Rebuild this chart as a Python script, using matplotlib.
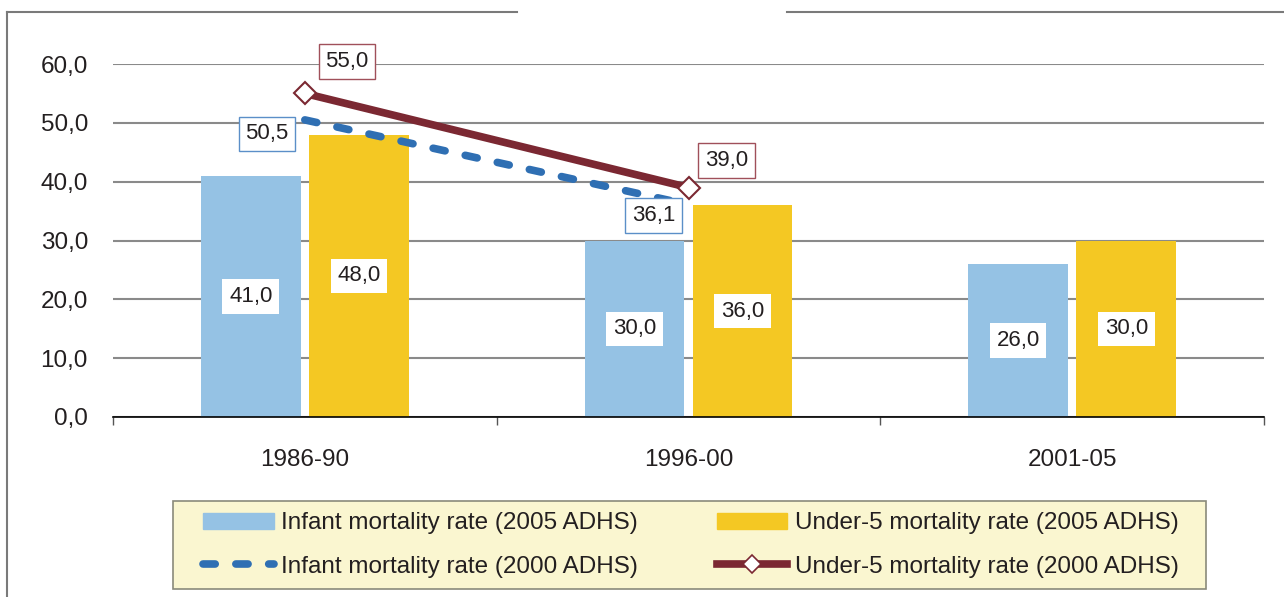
import matplotlib
matplotlib.use('Agg')
import matplotlib.pyplot as plt
import numpy as np
from matplotlib.patches import Patch, Rectangle
from matplotlib.lines import Line2D

plt.rcParams['font.family'] = ['Liberation Sans', 'DejaVu Sans']

# данные
periods = ['1986-90', '1996-00', '2001-05']
infant_2005 = [41.0, 30.0, 26.0]
under5_2005 = [48.0, 36.0, 30.0]
infant_2000 = [50.5, 36.1]
under5_2000 = [55.0, 39.0]
yticks = [0, 10, 20, 30, 40, 50, 60]

c_infant = '#95C2E4'
c_under5 = '#F4C823'
c_inf_line = '#2F6FB3'
c_u5_line = '#7B2832'
c_text = '#231F20'

def fmt(v):
    return f'{v:.1f}'.replace('.', ',')

fig = plt.figure(figsize=(12.84, 5.97), dpi=100)
ax = fig.add_axes([113/1284, 1 - 417/597, (1264 - 113)/1284, (417 - 64)/597])

x = np.arange(len(periods))
w = 0.26
gap = 0.011
ax.bar(x - w/2 - gap, infant_2005, width=w, color=c_infant, zorder=2)
ax.bar(x + w/2 + gap, under5_2005, width=w, color=c_under5, zorder=2)

# подписи столбцов
for i in range(len(periods)):
    for xx, v in [(x[i] - w/2 - gap, infant_2005[i]), (x[i] + w/2 + gap, under5_2005[i])]:
        ax.text(xx, v / 2, fmt(v), ha='center', va='center', fontsize=16, color=c_text,
                bbox=dict(boxstyle='square,pad=0.3', fc='white', ec='none'), zorder=5)

xl = x[:len(infant_2000)]
ax.plot(xl, infant_2000, color=c_inf_line, lw=5.5, ls=(0, (1.6, 2.7)),
        dash_capstyle='round', zorder=3, clip_on=False)
ax.plot(xl, under5_2000, color=c_u5_line, lw=5.5, marker='D', markersize=11,
        markerfacecolor='white', markeredgecolor=c_u5_line, markeredgewidth=1.5,
        zorder=4, clip_on=False)

# подписи линий
offs_inf = [(-38, -14), (-35, -11)]
offs_u5 = [(42, 32), (38, 27)]
for i, v in enumerate(infant_2000):
    ax.annotate(fmt(v), (xl[i], v), xytext=offs_inf[i], textcoords='offset pixels',
                ha='center', va='center', fontsize=16, color=c_text,
                bbox=dict(boxstyle='square,pad=0.3', fc='white', ec='#5B8FC8', lw=1),
                zorder=6, annotation_clip=False)
for i, v in enumerate(under5_2000):
    ax.annotate(fmt(v), (xl[i], v), xytext=offs_u5[i], textcoords='offset pixels',
                ha='center', va='center', fontsize=16, color=c_text,
                bbox=dict(boxstyle='square,pad=0.3', fc='white', ec='#A0505A', lw=1),
                zorder=6, annotation_clip=False)

ax.set_xlim(-0.5, len(periods) - 0.5)
ax.set_ylim(0, 60)
ax.set_yticks(yticks)
ax.set_yticklabels([fmt(v) for v in yticks], fontsize=17.5, color=c_text)
ax.set_xticks(x)
ax.set_xticklabels(periods, fontsize=17.5, color=c_text)
ax.tick_params(axis='y', length=0, pad=18)
ax.tick_params(axis='x', length=0, pad=23)
ax.set_xticks(np.arange(len(periods) + 1) - 0.5, minor=True)
ax.tick_params(axis='x', which='minor', length=6, color='#555555', width=1)
ax.grid(axis='y', color='#8A8A8A', lw=1.5, zorder=0)
for s in ['left', 'right', 'top']:
    ax.spines[s].set_visible(False)
ax.spines['bottom'].set_color('black')
ax.spines['bottom'].set_linewidth(1.2)
ax.spines['bottom'].set_zorder(3)

# рамка
fc = '#7A7A7A'
fig.add_artist(Line2D([7/1284, 7/1284], [0, 1 - 12/597], transform=fig.transFigure, color=fc, lw=1.5))
fig.add_artist(Line2D([7/1284, 517/1284], [1 - 12/597] * 2, transform=fig.transFigure, color=fc, lw=1.5))
fig.add_artist(Line2D([787/1284, 1], [1 - 12/597] * 2, transform=fig.transFigure, color=fc, lw=1.5))

# легенда
fig.add_artist(Rectangle((173/1284, 1 - 589/597), (1206 - 173)/1284, (589 - 501)/597,
                         transform=fig.transFigure, fc='#FAF6D0', ec='#8A8A7A', lw=1.2))
handles = [
    Patch(color=c_infant),
    Line2D([], [], color=c_inf_line, lw=5.5, ls=(0, (1.6, 2.7)), dash_capstyle='round'),
    Patch(color=c_under5),
    Line2D([], [], color=c_u5_line, lw=5.5, marker='D', markersize=9,
           markerfacecolor='white', markeredgecolor=c_u5_line, markeredgewidth=1.2),
]
labels = ['Infant mortality rate (2005 ADHS)', 'Infant mortality rate (2000 ADHS)',
          'Under-5 mortality rate (2005 ADHS)', 'Under-5 mortality rate (2000 ADHS)']
fig.legend(handles, labels, ncol=2, frameon=False, fontsize=17.5, borderpad=0,
           loc='center left', bbox_to_anchor=(191/1284, 1 - 545/597),
           handlelength=2.9, handleheight=0.6, handletextpad=0.3,
           columnspacing=3.25, labelspacing=0.87, labelcolor=c_text)

fig.savefig('out.png', dpi=100)
